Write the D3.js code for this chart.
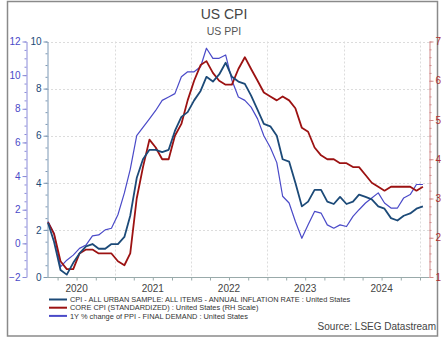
<!DOCTYPE html>
<html>
<head>
<meta charset="utf-8">
<script src="https://cdn.jsdelivr.net/npm/d3@7"></script>
<style>
body { margin: 0; background: #fff; }
svg { display: block; font-family: "Liberation Sans", Arial, sans-serif; }
</style>
</head>
<body>
<div id="chart"></div>
<script>
//////////////////////////////////////////////////////////////////////////////
// Data: monthly, Feb 2020 .. Jan 2025

var months = [
    "2020-02","2020-03","2020-04","2020-05","2020-06","2020-07","2020-08","2020-09","2020-10","2020-11","2020-12",
    "2021-01","2021-02","2021-03","2021-04","2021-05","2021-06","2021-07","2021-08","2021-09","2021-10","2021-11","2021-12",
    "2022-01","2022-02","2022-03","2022-04","2022-05","2022-06","2022-07","2022-08","2022-09","2022-10","2022-11","2022-12",
    "2023-01","2023-02","2023-03","2023-04","2023-05","2023-06","2023-07","2023-08","2023-09","2023-10","2023-11","2023-12",
    "2024-01","2024-02","2024-03","2024-04","2024-05","2024-06","2024-07","2024-08","2024-09","2024-10","2024-11","2024-12",
    "2025-01"
];

// headline CPI, y/y % (inner left scale)
var cpi = [
    2.3, 1.5, 0.3, 0.1, 0.6, 1.0, 1.3, 1.4, 1.2, 1.2, 1.4,
    1.4, 1.7, 2.6, 4.2, 5.0, 5.4, 5.4, 5.3, 5.4, 6.2, 6.8, 7.0,
    7.5, 7.9, 8.5, 8.3, 8.6, 9.1, 8.5, 8.3, 8.2, 7.7, 7.1, 6.5,
    6.4, 6.0, 5.0, 4.9, 4.0, 3.0, 3.2, 3.7, 3.7, 3.2, 3.1, 3.4,
    3.1, 3.2, 3.5, 3.4, 3.3, 3.0, 2.9, 2.5, 2.4, 2.6, 2.7, 2.9,
    3.0
];

// core CPI, y/y % (right scale)
var coreCpi = [
    2.4, 2.1, 1.4, 1.2, 1.2, 1.6, 1.7, 1.7, 1.6, 1.6, 1.6,
    1.4, 1.3, 1.6, 3.0, 3.8, 4.5, 4.3, 4.0, 4.0, 4.6, 4.9, 5.5,
    6.0, 6.4, 6.5, 6.2, 6.0, 5.9, 5.9, 6.3, 6.6, 6.3, 6.0, 5.7,
    5.6, 5.5, 5.6, 5.5, 5.3, 4.8, 4.7, 4.3, 4.1, 4.0, 4.0, 3.9,
    3.9, 3.8, 3.8, 3.6, 3.4, 3.3, 3.2, 3.3, 3.3, 3.3, 3.3, 3.2,
    3.3
];

// PPI final demand, y/y % (outer left scale)
var ppi = [
    1.3, 0.6, -1.4, -1.0, -0.7, -0.3, -0.1, 0.45, 0.5, 0.8, 0.9,
    1.7, 3.0, 4.4, 6.4, 6.9, 7.4, 7.9, 8.5, 8.7, 8.9, 9.9, 10.2,
    10.2, 10.5, 11.6, 11.0, 11.0, 11.2, 9.7, 8.7, 8.5, 8.1, 7.4, 6.4,
    5.7, 4.8, 2.8, 2.4, 1.3, 0.3, 1.1, 1.9, 1.8, 1.1, 0.9, 1.1,
    1.0, 1.6, 2.0, 2.4, 2.7, 3.0, 2.4, 2.1, 2.1, 2.7, 2.9, 3.5,
    3.5
];

var yearLabels = ["2020", "2021", "2022", "2023", "2024"];
var cpiTicks = [0, 2, 4, 6, 8, 10];
var ppiTicks = [-2, 0, 2, 4, 6, 8, 10, 12];
var coreTicks = [1, 2, 3, 4, 5, 6, 7];

var legendItems = [
    { label: "CPI - ALL URBAN SAMPLE: ALL ITEMS - ANNUAL INFLATION RATE : United States", color: "#1c4a78" },
    { label: "CORE CPI (STANDARDIZED) : United States (RH Scale)", color: "#9c1212" },
    { label: "1Y % change of PPI - FINAL DEMAND : United States", color: "#4a4ac8" }
];

//////////////////////////////////////////////////////////////////////////////
// Layout

var width = 448, height = 337;
var plotLeft = 47, plotRight = 429, plotTop = 41.5, plotBottom = 277;
var ppiAxisX = 26;

var parseMonth = d3.timeParse("%Y-%m");
var dates = months.map(function(m) { var d = parseMonth(m); d.setDate(15); return d; });

var xScale = d3.scaleTime()
    .domain([new Date(2021, 0, 1), new Date(2025, 0, 1)])
    .range([115, 420]);
var yCpi  = d3.scaleLinear().domain([0, 10]).range([plotBottom, plotTop]);
var yPpi  = d3.scaleLinear().domain([-2, 12]).range([plotBottom, plotTop]);
var yCore = d3.scaleLinear().domain([1, 7]).range([plotBottom, plotTop]);

var svg = d3.select("#chart").append("svg")
    .attr("width", width)
    .attr("height", height);

// frame
svg.append("rect")
    .attr("x", 7.5).attr("y", 1.5)
    .attr("width", 430).attr("height", 334.5)
    .attr("fill", "none").attr("stroke", "#8a8a8a").attr("stroke-width", 1.5);

// titles
svg.append("text").attr("x", 224).attr("y", 19)
    .attr("text-anchor", "middle").attr("font-size", 14).attr("fill", "#444")
    .text("US CPI");
svg.append("text").attr("x", 224).attr("y", 35)
    .attr("text-anchor", "middle").attr("font-size", 10.5).attr("fill", "#555")
    .text("US PPI");

//////////////////////////////////////////////////////////////////////////////
// Grid

var grid = svg.append("g")
    .attr("stroke", "#dcdcdc").attr("stroke-dasharray", "2,2").attr("stroke-width", 1);

grid.selectAll(".hg").data(cpiTicks.filter(function(t) { return t > 0; }))
    .enter().append("line")
    .attr("x1", plotLeft).attr("x2", plotRight)
    .attr("y1", function(d) { return Math.round(yCpi(d)) + 0.5; })
    .attr("y2", function(d) { return Math.round(yCpi(d)) + 0.5; });

var yearStarts = d3.timeYear.range(new Date(2021, 0, 1), new Date(2025, 0, 2));
grid.selectAll(".vg").data(yearStarts)
    .enter().append("line")
    .attr("y1", plotTop).attr("y2", plotBottom)
    .attr("x1", function(d) { return Math.round(xScale(d)) + 0.5; })
    .attr("x2", function(d) { return Math.round(xScale(d)) + 0.5; });

//////////////////////////////////////////////////////////////////////////////
// Axes

function styleAxis(g, lineColor, textColor) {
    g.selectAll("path.domain").attr("stroke", lineColor);
    g.selectAll("line").attr("stroke", lineColor);
    g.selectAll("text").attr("fill", textColor).attr("font-size", 10)
        .attr("font-family", "Liberation Sans, Arial, sans-serif");
}

// minor ticks first, majors drawn on top
function minorAxis(axisFn, scale, step, x, color) {
    var lo = scale.domain()[0], hi = scale.domain()[1];
    var vals = d3.range(lo, hi + step / 2, step);
    var g = svg.append("g").attr("transform", "translate(" + x + ",0)")
        .call(axisFn(scale).tickValues(vals).tickSize(2).tickFormat(""));
    g.select("path.domain").remove();
    g.selectAll("line").attr("stroke", color);
}

minorAxis(d3.axisLeft, yPpi, 0.5, ppiAxisX + 0.5, "#8a8ad8");
minorAxis(d3.axisLeft, yCpi, 0.5, plotLeft + 0.5, "#7d98b4");
minorAxis(d3.axisRight, yCore, 0.2, plotRight + 0.5, "#d08a8a");

var intFmt = d3.format("d");

svg.append("g").attr("transform", "translate(" + (ppiAxisX + 0.5) + ",0)")
    .call(d3.axisLeft(yPpi).tickValues(ppiTicks).tickFormat(intFmt).tickSize(4).tickSizeOuter(0).tickPadding(2))
    .call(styleAxis, "#8a8ad8", "#4a4ac8");

svg.append("g").attr("transform", "translate(" + (plotLeft + 0.5) + ",0)")
    .call(d3.axisLeft(yCpi).tickValues(cpiTicks).tickFormat(intFmt).tickSize(4).tickSizeOuter(0).tickPadding(2))
    .call(styleAxis, "#7d98b4", "#1c4a78");

svg.append("g").attr("transform", "translate(" + (plotRight + 0.5) + ",0)")
    .call(d3.axisRight(yCore).tickValues(coreTicks).tickFormat(intFmt).tickSize(4).tickSizeOuter(0).tickPadding(2))
    .call(styleAxis, "#d08a8a", "#b03030");

// bottom axis: quarterly ticks, labels centred in each year
var quarters = d3.timeMonth.every(3).range(new Date(2020, 3, 1), new Date(2025, 1, 1));
var xAxisG = svg.append("g").attr("transform", "translate(0," + (plotBottom + 0.5) + ")")
    .call(d3.axisBottom(xScale).tickValues(quarters).tickSize(3).tickSizeOuter(0).tickFormat(""));
xAxisG.select("path.domain").attr("d", "M" + plotLeft + ",0H" + plotRight);
styleAxis(xAxisG, "#9aa", "#444");

svg.append("g").selectAll("text").data(yearLabels)
    .enter().append("text")
    .attr("x", function(d) { return xScale(new Date(+d, 6, 1)); })
    .attr("y", plotBottom + 15)
    .attr("text-anchor", "middle")
    .attr("font-size", 10).attr("fill", "#444")
    .text(function(d) { return d; });

//////////////////////////////////////////////////////////////////////////////
// Lines

function drawLine(values, yScale, color, w) {
    var line = d3.line()
        .x(function(d, i) { return xScale(dates[i]); })
        .y(function(d) { return yScale(d); });
    svg.append("path")
        .datum(values)
        .attr("d", line)
        .attr("fill", "none")
        .attr("stroke", color)
        .attr("stroke-width", w)
        .attr("stroke-linejoin", "round");
}

drawLine(ppi, yPpi, "#4a4ac8", 1.2);
drawLine(coreCpi, yCore, "#9c1212", 1.8);
drawLine(cpi, yCpi, "#1c4a78", 1.8);

//////////////////////////////////////////////////////////////////////////////
// Legend + source

var legend = svg.append("g").selectAll("g").data(legendItems)
    .enter().append("g")
    .attr("transform", function(d, i) { return "translate(49," + (299.5 + i * 8.2) + ")"; });

legend.append("line")
    .attr("x1", 0).attr("x2", 18)
    .attr("stroke", function(d) { return d.color; })
    .attr("stroke-width", 2);
legend.append("text")
    .attr("x", 21).attr("y", 2.6)
    .attr("font-size", 7.4).attr("fill", "#333")
    .text(function(d) { return d.label; });

svg.append("text").attr("x", 436).attr("y", 330)
    .attr("text-anchor", "end").attr("font-size", 10).attr("fill", "#444")
    .text("Source: LSEG Datastream");
</script>
</body>
</html>
